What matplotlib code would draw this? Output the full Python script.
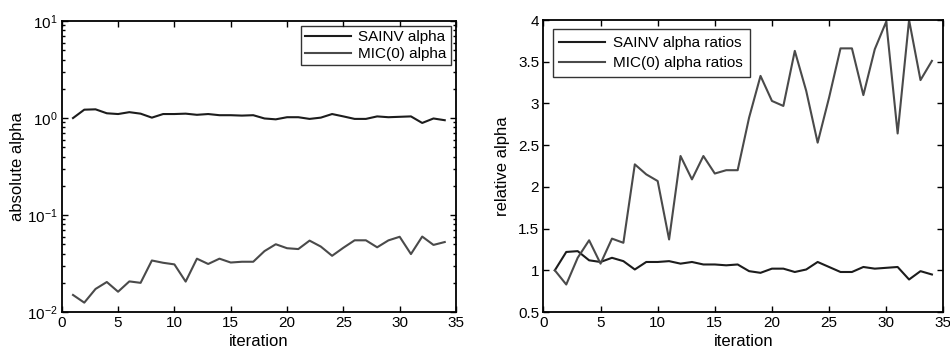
import matplotlib
matplotlib.use("Agg")
import matplotlib.pyplot as plt
from matplotlib.ticker import FormatStrFormatter, LogLocator, NullFormatter

plt.rcParams["font.family"] = ["Liberation Sans", "DejaVu Sans"]
plt.rcParams["font.size"] = 11
plt.rcParams["mathtext.fontset"] = "custom"
plt.rcParams["mathtext.rm"] = "Liberation Sans"

iters = list(range(1, 35))

sainv_abs = [1.00, 1.22, 1.23, 1.12, 1.10, 1.15, 1.11, 1.01, 1.10, 1.10,
             1.11, 1.08, 1.10, 1.07, 1.07, 1.06, 1.07, 0.99, 0.97, 1.02,
             1.02, 0.98, 1.01, 1.10, 1.04, 0.98, 0.98, 1.04, 1.02, 1.03,
             1.04, 0.89, 0.99, 0.95]
mic_abs = [0.0150, 0.0125, 0.0173, 0.0204, 0.0162, 0.0207, 0.0200, 0.0340,
           0.0322, 0.0310, 0.0206, 0.0355, 0.0313, 0.0355, 0.0324, 0.0330,
           0.0330, 0.0425, 0.0500, 0.0455, 0.0446, 0.0545, 0.0473, 0.0380,
           0.0460, 0.0549, 0.0549, 0.0465, 0.0548, 0.0597, 0.0396, 0.0600,
           0.0492, 0.0527]

sainv_ratio = sainv_abs
mic_ratio = [1.00, 0.83, 1.15, 1.36, 1.08, 1.38, 1.33, 2.27, 2.15, 2.07,
             1.37, 2.37, 2.09, 2.37, 2.16, 2.20, 2.20, 2.83, 3.33, 3.03,
             2.97, 3.63, 3.15, 2.53, 3.07, 3.66, 3.66, 3.10, 3.65, 3.98,
             2.64, 4.00, 3.28, 3.51]

C_SAINV = "#1c1c1c"
C_MIC = "#4a4a4a"

fig = plt.figure(figsize=(9.5, 3.51), dpi=100)
ax1 = fig.add_axes([0.065, 0.111, 0.415, 0.829])
ax2 = fig.add_axes([0.572, 0.111, 0.421, 0.832])


def style(ax):
    ax.tick_params(which="both", direction="in", top=True, right=True,
                   width=1.0, labelsize=11, pad=3)
    ax.tick_params(which="major", length=4)
    ax.tick_params(which="minor", length=2)
    for s in ax.spines.values():
        s.set_linewidth(1.3)


ax1.plot(iters, sainv_abs, color=C_SAINV, lw=1.5, label="SAINV alpha")
ax1.plot(iters, mic_abs, color=C_MIC, lw=1.5, label="MIC(0) alpha")
ax1.set_yscale("log")
ax1.set_xlim(0, 35)
ax1.set_ylim(1e-2, 1e1)
ax1.set_xticks(range(0, 36, 5))
ax1.yaxis.set_minor_locator(LogLocator(base=10, subs=range(2, 10)))
ax1.yaxis.set_minor_formatter(NullFormatter())
ax1.set_xlabel("iteration", fontsize=12, labelpad=3)
ax1.set_ylabel("absolute alpha", fontsize=12, labelpad=1)
style(ax1)
leg1 = ax1.legend(loc="upper right", fontsize=11, frameon=True, fancybox=False,
                  edgecolor="black", handlelength=3.0, borderpad=0.25,
                  labelspacing=0.2, borderaxespad=0.35, handletextpad=0.5)
leg1.get_frame().set_linewidth(1.0)

ax2.plot(iters, sainv_ratio, color=C_SAINV, lw=1.5, label="SAINV alpha ratios")
ax2.plot(iters, mic_ratio, color=C_MIC, lw=1.5, label="MIC(0) alpha ratios")
ax2.set_xlim(0, 35)
ax2.set_ylim(0.5, 4)
ax2.set_xticks(range(0, 36, 5))
ax2.set_yticks([0.5, 1, 1.5, 2, 2.5, 3, 3.5, 4])
ax2.yaxis.set_major_formatter(FormatStrFormatter("%g"))
ax2.set_xlabel("iteration", fontsize=12, labelpad=3)
ax2.set_ylabel("relative alpha", fontsize=12, labelpad=6)
style(ax2)
leg2 = ax2.legend(loc="upper left", fontsize=11, frameon=True, fancybox=False,
                  edgecolor="black", handlelength=3.0, borderpad=0.45,
                  labelspacing=0.4, borderaxespad=0.6, handletextpad=0.5)
leg2.get_frame().set_linewidth(1.0)

fig.savefig("out.png", dpi=100)
